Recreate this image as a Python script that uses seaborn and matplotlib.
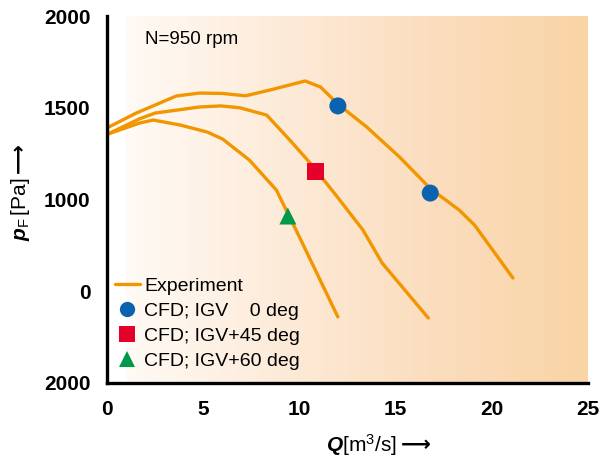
import numpy as np
import pandas as pd
import matplotlib
matplotlib.use("Agg")
import matplotlib.pyplot as plt
import seaborn as sns
from matplotlib.colors import LinearSegmentedColormap
from matplotlib.lines import Line2D

# ---- data ----
q_igv0 = [0.0, 1.5, 3.6, 4.8, 6.0, 7.2, 8.6, 10.3, 11.1, 12.0, 13.5, 15.2, 16.8, 18.3, 19.1, 21.1]
p_igv0 = [1390, 1470, 1564, 1580, 1578, 1565, 1600, 1646, 1613, 1520, 1395, 1232, 1060, 943, 861, 572]

q_igv45 = [0.0, 1.7, 2.5, 4.8, 5.9, 6.9, 8.3, 9.5, 10.65, 12.0, 13.3, 14.3, 16.7]
p_igv45 = [1355, 1440, 1471, 1504, 1510, 1500, 1460, 1324, 1188, 1010, 834, 654, 354]

q_igv60 = [0.0, 1.7, 2.4, 3.8, 5.2, 6.0, 7.4, 8.8, 9.7, 10.0, 12.0]
p_igv60 = [1355, 1417, 1433, 1406, 1368, 1330, 1215, 1052, 860, 796, 360]

cfd_q = [12.0, 16.8, 10.86, 9.4]
cfd_p = [1510, 1035, 1155, 910]
cfd_case = ["0", "0", "45", "60"]

y_ticks = [0, 500, 1000, 1500, 2000]
y_ticklabels = ["2000", "0", "1000", "1500", "2000"]
x_ticks = [0, 5, 10, 15, 20, 25]

legend_labels = ["Experiment", "CFD; IGV    0 deg", "CFD; IGV+45 deg", "CFD; IGV+60 deg"]

# ---- style ----
sns.set_style("white")
plt.rcParams["font.family"] = ["Liberation Sans", "DejaVu Sans"]
plt.rcParams["mathtext.fontset"] = "custom"
plt.rcParams["mathtext.rm"] = "Liberation Sans"
plt.rcParams["mathtext.it"] = "Liberation Sans:italic:bold"
plt.rcParams["mathtext.bf"] = "DejaVu Sans:bold"
plt.rcParams["mathtext.fallback"] = "stixsans"
plt.rcParams["text.color"] = "black"
plt.rcParams["axes.labelcolor"] = "black"
plt.rcParams["xtick.color"] = "black"
plt.rcParams["ytick.color"] = "black"

orange = "#F29600"
blue = "#0B63B0"
red = "#E4002B"
green = "#009A4A"

fig = plt.figure(figsize=(6.11, 4.57), dpi=100)
ax = fig.add_axes([107/611, 1 - 383/457, (588-107)/611, (383-16)/457])

# background gradient
cmap = LinearSegmentedColormap.from_list("bg", ["#FFFAF5", "#FDEBD9", "#FBDDBE", "#F9D4A5"])
grad = np.linspace(0, 1, 256).reshape(1, -1)
ax.imshow(grad, extent=[1.0, 25, 0, 2000], aspect="auto", cmap=cmap, zorder=0,
          interpolation="bilinear")

# experiment curves
exp = pd.concat([
    pd.DataFrame({"Q": q_igv0, "P": p_igv0, "case": "0"}),
    pd.DataFrame({"Q": q_igv45, "P": p_igv45, "case": "45"}),
    pd.DataFrame({"Q": q_igv60, "P": p_igv60, "case": "60"}),
])
sns.lineplot(data=exp, x="Q", y="P", units="case", estimator=None, sort=False,
             color=orange, lw=2.4, ax=ax, legend=False, zorder=2)

# CFD points
cfd = pd.DataFrame({"Q": cfd_q, "P": cfd_p, "case": cfd_case})
sns.scatterplot(data=cfd, x="Q", y="P", hue="case", style="case",
                palette={"0": blue, "45": red, "60": green},
                markers={"0": "o", "45": "s", "60": "^"},
                s=150, edgecolor="none", ax=ax, legend=False, zorder=3)

ax.set_xlim(0, 25)
ax.set_ylim(0, 2000)
ax.set_xticks(x_ticks)
ax.set_xticklabels([str(t) for t in x_ticks])
ax.set_yticks(y_ticks)
ax.set_yticklabels(y_ticklabels)
ax.tick_params(axis="both", direction="out", length=8.5, width=1.1, labelsize=15,
               pad=3.5, color="black", labelcolor="black")
for lab in ax.get_xticklabels() + ax.get_yticklabels():
    lab.set_fontweight("bold")

for side in ["top", "right"]:
    ax.spines[side].set_visible(False)
for side in ["left", "bottom"]:
    ax.spines[side].set_linewidth(2.4)
    ax.spines[side].set_color("black")

ax.set_xlabel(r"$Q\mathrm{[m^{3}/s]}\mathbf{\longrightarrow}$", fontsize=15)
ax.set_ylabel(r"$p_{\mathrm{F}}\,\mathrm{[Pa]}\mathbf{\longrightarrow}$", fontsize=15)
ax.xaxis.set_label_coords(0.565, -0.135)
ax.yaxis.set_label_coords(-0.155, 0.52)

ax.text(2.0, 1920, "N=950 rpm", fontsize=13.5, va="top", ha="left", color="black")

handles = [
    Line2D([], [], color=orange, lw=2.4),
    Line2D([], [], marker="o", ls="", color=blue, markersize=11, markeredgewidth=0),
    Line2D([], [], marker="s", ls="", color=red, markersize=11, markeredgewidth=0),
    Line2D([], [], marker="^", ls="", color=green, markersize=12, markeredgewidth=0),
]
leg = ax.legend(handles, legend_labels, loc="upper left", bbox_to_anchor=(0.0, 0.31),
                frameon=False, fontsize=14, handlelength=1.3, handletextpad=0.2,
                labelspacing=0.38, borderaxespad=0)
for t in leg.get_texts():
    t.set_color("black")

fig.savefig("out.png", dpi=100)
